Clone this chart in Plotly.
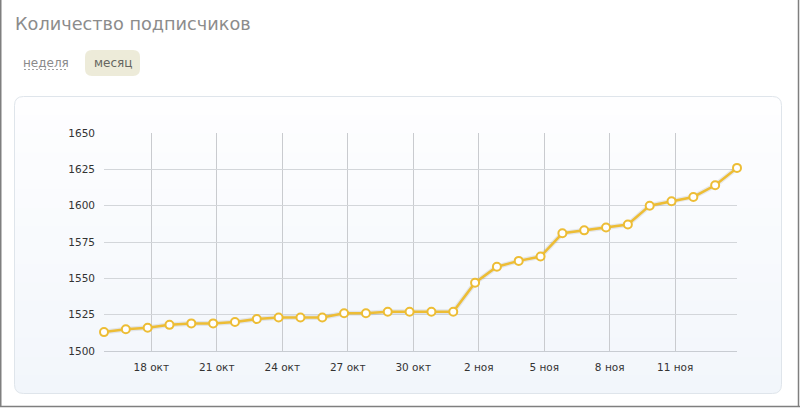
import plotly.graph_objects as go
import pandas as pd

# ---------------- data ----------------
dates = [
    "2011-10-16", "2011-10-17", "2011-10-18", "2011-10-19", "2011-10-20",
    "2011-10-21", "2011-10-22", "2011-10-23", "2011-10-24", "2011-10-25",
    "2011-10-26", "2011-10-27", "2011-10-28", "2011-10-29", "2011-10-30",
    "2011-10-31", "2011-11-01", "2011-11-02", "2011-11-03", "2011-11-04",
    "2011-11-05", "2011-11-06", "2011-11-07", "2011-11-08", "2011-11-09",
    "2011-11-10", "2011-11-11", "2011-11-12", "2011-11-13", "2011-11-14",
]
subscribers = [
    1513, 1515, 1516, 1518, 1519, 1519, 1520, 1522, 1523, 1523,
    1523, 1526, 1526, 1527, 1527, 1527, 1527, 1547, 1558, 1562,
    1565, 1581, 1583, 1585, 1587, 1600, 1603, 1606, 1614, 1626,
]
tick_dates = ["2011-10-18", "2011-10-21", "2011-10-24", "2011-10-27", "2011-10-30",
              "2011-11-02", "2011-11-05", "2011-11-08", "2011-11-11"]
tick_labels = ["18 окт", "21 окт", "24 окт", "27 окт", "30 окт",
               "2 ноя", "5 ноя", "8 ноя", "11 ноя"]
y_ticks = [1500, 1525, 1550, 1575, 1600, 1625, 1650]
title_text = "Количество подписчиков"
period_labels = ["неделя", "месяц"]

# samples are stamped at midnight UTC+4, the axis shows local midnight
x_vals = pd.to_datetime(dates) - pd.Timedelta(hours=4)

# ---------------- layout geometry (pixels) ----------------
W, H = 800, 408
L, R, T, B = 104, 737, 133, 351
FONT = "DejaVu Sans"


def px(x):
    return (x - L) / (R - L)


def py(y):
    return (B - y) / (B - T)


def rounded_path(x0, y0, x1, y1, r, top=True, bottom=True):
    def p(x, y):
        return f"{px(x):.5f},{py(y):.5f}"
    s = []
    if top:
        s.append(f"M {p(x0 + r, y0)} L {p(x1 - r, y0)} Q {p(x1, y0)} {p(x1, y0 + r)}")
    else:
        s.append(f"M {p(x0, y0)} L {p(x1, y0)}")
    if bottom:
        s.append(f"L {p(x1, y1 - r)} Q {p(x1, y1)} {p(x1 - r, y1)} L {p(x0 + r, y1)} Q {p(x0, y1)} {p(x0, y1 - r)}")
    else:
        s.append(f"L {p(x1, y1)} L {p(x0, y1)}")
    if top:
        s.append(f"L {p(x0, y0 + r)} Q {p(x0, y0)} {p(x0 + r, y0)} Z")
    else:
        s.append("Z")
    return " ".join(s)


shapes = []

# panel with vertical gradient (stacked bands)
PX0, PY0, PX1, PY1, PR = 14.5, 96.5, 781.5, 393.5, 9
c_top = (254, 254, 255)
c_bot = (242, 246, 251)
n_bands = 16
band_h = (PY1 - PY0) / n_bands
for i in range(n_bands):
    ya = PY0 + i * band_h
    yb = min(PY1, ya + band_h + 1)
    t = (i + 0.5) / n_bands
    col = "rgb(%d,%d,%d)" % tuple(round(c_top[k] + (c_bot[k] - c_top[k]) * t) for k in range(3))
    shapes.append(dict(type="path", xref="paper", yref="paper", layer="below",
                       path=rounded_path(PX0, ya, PX1, yb, PR,
                                         top=(i == 0), bottom=(i == n_bands - 1)),
                       fillcolor=col, line=dict(width=0)))
shapes.append(dict(type="path", xref="paper", yref="paper", layer="below",
                   path=rounded_path(PX0, PY0, PX1, PY1, PR),
                   fillcolor="rgba(0,0,0,0)", line=dict(color="#dfe5eb", width=1)))

# "месяц" button
shapes.append(dict(type="path", xref="paper", yref="paper", layer="below",
                   path=rounded_path(85, 50, 140, 76, 7),
                   fillcolor="#edebd9", line=dict(width=0)))
# dashed underline under "неделя"
shapes.append(dict(type="line", xref="paper", yref="paper",
                   x0=px(24), x1=px(67), y0=py(69.5), y1=py(69.5),
                   line=dict(color="#a0a0a0", width=1, dash="2px,2px")))

# outer frame (left, right, bottom)
frame_col = "#7f7f7f"
shapes.append(dict(type="line", xref="paper", yref="paper",
                   x0=px(0.75), x1=px(0.75), y0=py(0), y1=py(407), line=dict(color=frame_col, width=1.5)))
shapes.append(dict(type="line", xref="paper", yref="paper",
                   x0=px(798.5), x1=px(798.5), y0=py(0), y1=py(407), line=dict(color=frame_col, width=1.5)))
shapes.append(dict(type="line", xref="paper", yref="paper",
                   x0=px(0), x1=px(800), y0=py(406.5), y1=py(406.5), line=dict(color=frame_col, width=1.5)))

annotations = [
    dict(text=title_text, xref="paper", yref="paper", x=px(13), y=py(24.5),
         xanchor="left", yanchor="middle", showarrow=False,
         font=dict(family=FONT, size=17.7, color="#8c8c8c")),
    dict(text=period_labels[0], xref="paper", yref="paper", x=px(45.5), y=py(63),
         xanchor="center", yanchor="middle", showarrow=False,
         font=dict(family=FONT, size=12, color="#8a8a8a")),
    dict(text=period_labels[1], xref="paper", yref="paper", x=px(112.5), y=py(63),
         xanchor="center", yanchor="middle", showarrow=False,
         font=dict(family=FONT, size=12, color="#666660")),
]

fig = go.Figure()
# soft shadow under the line
fig.add_trace(go.Scatter(x=x_vals, y=subscribers, mode="lines",
                         line=dict(color="rgba(0,0,0,0.08)", width=5),
                         hoverinfo="skip", showlegend=False))
fig.add_trace(go.Scatter(x=x_vals, y=subscribers, mode="lines+markers",
                         line=dict(color="#edbd35", width=2.5),
                         marker=dict(size=8, color="white",
                                     line=dict(color="#edbd35", width=2)),
                         showlegend=False, cliponaxis=False))

fig.update_layout(
    width=W, height=H,
    margin=dict(l=L, r=W - R, t=T, b=H - B, pad=0),
    paper_bgcolor="white",
    plot_bgcolor="rgba(0,0,0,0)",
    shapes=shapes,
    annotations=annotations,
    showlegend=False,
    font=dict(family=FONT, size=10.5, color="#333333"),
    xaxis=dict(
        type="date",
        range=[x_vals[0], x_vals[-1]],
        tickmode="array",
        tickvals=tick_dates,
        ticktext=tick_labels,
        showgrid=True, gridcolor="#c9cbcf", gridwidth=1,
        showline=True, linecolor="#c8ccd2", linewidth=1,
        zeroline=False, ticks="",
        ticklabelstandoff=6,
        tickfont=dict(family=FONT, size=10.5, color="#333333"),
        fixedrange=True,
    ),
    yaxis=dict(
        range=[1500, 1650],
        tickmode="array",
        tickvals=y_ticks,
        showgrid=True, gridcolor="#d3d6da", gridwidth=1,
        zeroline=False, showline=False, ticks="",
        ticklabelstandoff=8,
        tickfont=dict(family=FONT, size=10.5, color="#333333"),
        fixedrange=True,
    ),
)

fig.write_html("out.html", config={"displayModeBar": False},
               post_script="document.body.style.margin='0';")
